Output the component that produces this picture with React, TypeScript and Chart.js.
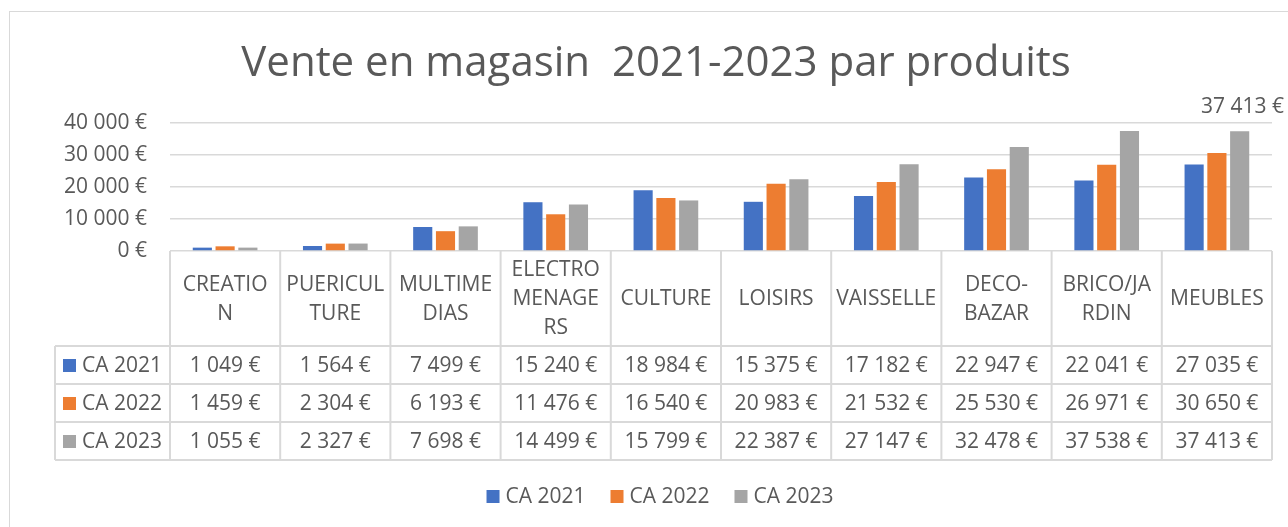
import React, { useEffect, useRef } from "react";
import { Chart, registerables } from "chart.js";

Chart.register(...registerables);

const chartTitle = "Vente en magasin  2021-2023 par produits";
const categories: string[][] = [
  ["CREATIO", "N"],
  ["PUERICUL", "TURE"],
  ["MULTIME", "DIAS"],
  ["ELECTRO", "MENAGE", "RS"],
  ["CULTURE"],
  ["LOISIRS"],
  ["VAISSELLE"],
  ["DECO-", "BAZAR"],
  ["BRICO/JA", "RDIN"],
  ["MEUBLES"],
];
const seriesNames = ["CA 2021", "CA 2022", "CA 2023"];
const ca2021 = [1049, 1564, 7499, 15240, 18984, 15375, 17182, 22947, 22041, 27035];
const ca2022 = [1459, 2304, 6193, 11476, 16540, 20983, 21532, 25530, 26971, 30650];
const ca2023 = [1055, 2327, 7698, 14499, 15799, 22387, 27147, 32478, 37538, 37413];
const yTicks = [0, 10000, 20000, 30000, 40000];
const seriesColors = ["#4472C4", "#ED7D31", "#A5A5A5"];

const FONT = "'Open Sans', sans-serif";
const TEXT = "#595959";
const LINE = "#D9D9D9";
const FS = 21;

const fmt = (v: number) =>
  String(Math.round(v)).replace(/\B(?=(\d{3})+(?!\d))/g, " ") + " €";

const decorPlugin = {
  id: "decor",
  beforeDraw(chart: any) {
    const ctx = chart.ctx;
    ctx.save();
    ctx.fillStyle = "#ffffff";
    ctx.fillRect(0, 0, chart.width, chart.height);
    ctx.strokeStyle = LINE;
    ctx.lineWidth = 1;
    ctx.strokeRect(9.5, 11.5, chart.width + 20, chart.height + 20);
    ctx.restore();
  },
  afterDraw(chart: any) {
    const ctx = chart.ctx;
    const xs = chart.scales.x;
    const area = chart.chartArea;
    const n = categories.length;
    const colW = (area.right - area.left) / n;
    const headTop = area.bottom;
    const headBottom = headTop + 95;
    const rowH = 38;
    const tableBottom = headBottom + rowH * 3;
    const legendLeft = 55;
    const series = [ca2021, ca2022, ca2023];

    ctx.save();
    // title
    ctx.fillStyle = TEXT;
    ctx.font = `42px ${FONT}`;
    ctx.textAlign = "center";
    ctx.textBaseline = "middle";
    ctx.fillText(chartTitle, 656, 64);

    // stray data label
    ctx.font = `${FS}px ${FONT}`;
    ctx.textAlign = "right";
    ctx.fillText(fmt(ca2023[n - 1]), 1284, 107);

    // table lines
    ctx.strokeStyle = LINE;
    ctx.lineWidth = 2;
    ctx.beginPath();
    for (let i = 0; i <= n; i++) {
      const x = area.left + i * colW;
      ctx.moveTo(x, headTop);
      ctx.lineTo(x, tableBottom);
    }
    ctx.moveTo(legendLeft, headBottom);
    ctx.lineTo(legendLeft, tableBottom);
    for (let r = 0; r <= 3; r++) {
      const y = headBottom + r * rowH;
      ctx.moveTo(legendLeft, y);
      ctx.lineTo(area.right, y);
    }
    ctx.stroke();

    // header labels
    ctx.fillStyle = TEXT;
    ctx.font = `${FS}px ${FONT}`;
    ctx.textAlign = "center";
    ctx.textBaseline = "middle";
    const lh = 29;
    const hc = (headTop + headBottom) / 2 + 1;
    categories.forEach((lines, i) => {
      const cx = xs.getPixelForValue(i);
      const y0 = hc - ((lines.length - 1) * lh) / 2;
      lines.forEach((t, k) => ctx.fillText(t, cx, y0 + k * lh));
    });

    // rows
    series.forEach((vals, r) => {
      const cy = headBottom + r * rowH + rowH / 2 + 1;
      ctx.fillStyle = seriesColors[r];
      ctx.fillRect(63, cy - 7, 13, 13);
      ctx.fillStyle = TEXT;
      ctx.textAlign = "left";
      ctx.fillText(seriesNames[r], 82, cy);
      ctx.textAlign = "center";
      vals.forEach((v, i) => {
        ctx.fillText(fmt(v), xs.getPixelForValue(i), cy);
      });
    });

    // bottom legend
    const items = seriesNames.map((s) => ({ s, w: ctx.measureText(s).width }));
    const box = 13, gapBox = 6, gapItem = 25;
    let total = 0;
    items.forEach((it, i) => {
      total += box + gapBox + it.w + (i < items.length - 1 ? gapItem : 0);
    });
    let x = 660 - total / 2;
    const ly = 497;
    ctx.textAlign = "left";
    items.forEach((it, i) => {
      ctx.fillStyle = seriesColors[i];
      ctx.fillRect(x, ly - 7, box, box);
      x += box + gapBox;
      ctx.fillStyle = TEXT;
      ctx.fillText(it.s, x, ly);
      x += it.w + gapItem;
    });
    ctx.restore();
  },
};

export default function App() {
  const ref = useRef<HTMLCanvasElement | null>(null);
  useEffect(() => {
    document.body.style.margin = "0";
    if (!ref.current) return;
    const chart = new Chart(ref.current, {
      type: "bar",
      data: {
        labels: categories,
        datasets: [ca2021, ca2022, ca2023].map((d, i) => ({
          label: seriesNames[i],
          data: d,
          backgroundColor: seriesColors[i],
          categoryPercentage: 0.62,
          barPercentage: 0.84,
        })),
      },
      options: {
        responsive: false,
        animation: false,
        layout: { padding: { left: 0, right: 16, top: 123, bottom: 276 } },
        plugins: {
          legend: { display: false },
          title: { display: false },
          tooltip: { enabled: false },
        },
        scales: {
          x: { display: false },
          y: {
            min: 0,
            max: 40000,
            border: { display: false },
            grid: { color: LINE, lineWidth: 1.5, tickLength: 0, drawTicks: false },
            afterFit: (s: any) => {
              s.width = 170;
            },
            afterBuildTicks: (s: any) => {
              s.ticks = yTicks.map((v) => ({ value: v }));
            },
            ticks: {
              padding: 23,
              color: TEXT,
              font: { family: FONT, size: FS },
              callback: (v: any) => fmt(Number(v)),
            },
          },
        },
      },
      plugins: [decorPlugin],
    });
    return () => chart.destroy();
  }, []);
  return <canvas ref={ref} width={1288} height={527} style={{ display: "block" }} />;
}
